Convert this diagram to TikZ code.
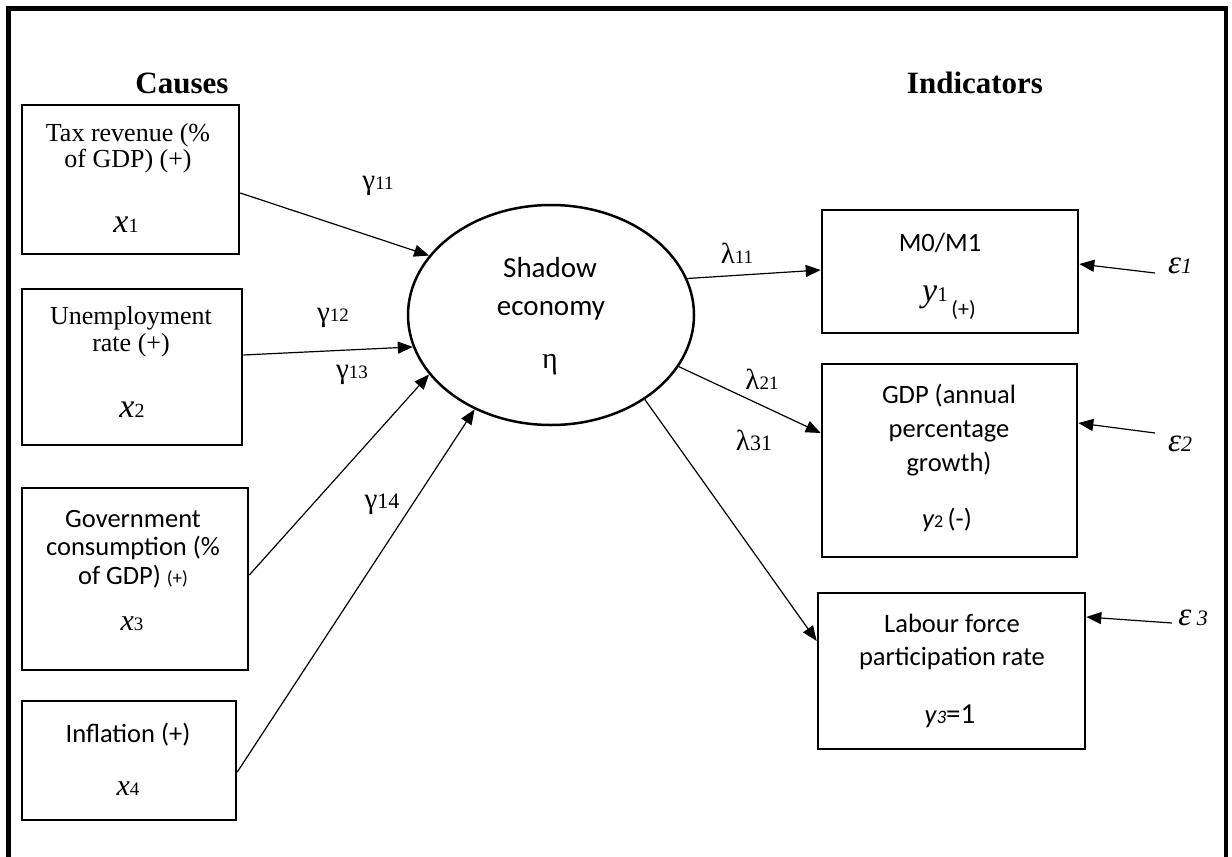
\documentclass[tikz,border=0pt]{standalone}
\usepackage{fontspec}
\setmainfont{Liberation Serif}
\newfontfamily\calib{Carlito}
\usetikzlibrary{arrows.meta,shapes.geometric}
\newcommand\fs[1]{\fontsize{#1}{#1}\selectfont}
\begin{document}
\begin{tikzpicture}[x=1pt,y=-1pt,
  box/.style={draw, line width=2.6pt, inner sep=0pt},
  txt/.style={anchor=base, inner sep=0pt, font=\fs{26}},
  ctxt/.style={anchor=base, inner sep=0pt, font=\calib\fs{26.5}},
  lab/.style={inner sep=0pt, font=\fs{29}},
  arr/.style={line width=1.2pt, -{Triangle[length=15pt,width=12pt]}}]
\useasboundingbox (0,0) rectangle (1232,857);
\clip (0,0) rectangle (1232,857);
\draw[line width=4.5pt] (8.5,880) -- (8.5,8.5) -- (1226,8.5) -- (1226,880);

% headings
\node[anchor=base, inner sep=0pt, font=\bfseries\fs{31}] (hc) at (182,93) {Causes};
\node[anchor=base, inner sep=0pt, font=\bfseries\fs{31}] (hi) at (975,93) {Indicators};

% cause boxes
\node[box, minimum width=217pt, minimum height=149pt] (b1) at (130.5,179.5) {};
\node[txt] (b1a) at (128,141) {Tax revenue (\%};
\node[txt] (b1b) at (128,167) {of GDP) (+)};
\node[txt] (b1c) at (126,232) {{\fs{34}\itshape x}{\fs{20}1}};

\node[box, minimum width=220pt, minimum height=156pt] (b2) at (132,367) {};
\node[txt] (b2a) at (131,324) {Unemployment};
\node[txt] (b2b) at (131,351) {rate (+)};
\node[txt] (b2c) at (132,417) {{\fs{34}\itshape x}{\fs{20}2}};

\node[box, minimum width=226pt, minimum height=182pt] (b3) at (135,579) {};
\node[ctxt] (b3a) at (133,527) {Government};
\node[ctxt] (b3b) at (133,555) {consumption (\%};
\node[ctxt] (b3c) at (133,584) {of GDP) {\fs{19}(+)}};
\node[txt] (b3d) at (132,630) {{\fs{30}\itshape x}{\fs{19}3}};

\node[box, minimum width=214pt, minimum height=119pt] (b4) at (129,760.5) {};
\node[ctxt] (b4a) at (128,742) {Inflation (+)};
\node[txt] (b4b) at (128,795) {{\fs{30}\itshape x}{\fs{19}4}};

% latent variable
\node[draw, ellipse, line width=2.5pt, inner sep=0pt, minimum width=286pt, minimum height=220pt] (eta) at (551,315) {};
\node[anchor=base, inner sep=0pt, font=\calib\fs{29}] (ea) at (550,277) {Shadow};
\node[anchor=base, inner sep=0pt, font=\calib\fs{29}] (eb) at (551,315) {economy};
\node[anchor=base, inner sep=0pt, font=\fs{30}] (ec) at (550,368) {η};

% indicator boxes
\node[box, minimum width=256pt, minimum height=123pt] (m) at (950,271.5) {};
\node[ctxt] (ma) at (940,251) {M0/M1};
\node[anchor=base west, inner sep=0pt] (mb) at (922,301) {{\fs{34}\itshape y}{\fs{21}1}\raisebox{-15pt}{\calib\fs{22}\,(+)}};

\node[box, minimum width=255pt, minimum height=193pt] (g) at (949.5,460.5) {};
\node[ctxt] (ga) at (949,403) {GDP (annual};
\node[ctxt] (gb) at (949,437) {percentage};
\node[ctxt] (gc) at (949,471) {growth)};
\node[ctxt] (gd) at (947,527) {{\itshape y}{\fs{18}2}\,(-)};

\node[box, minimum width=267pt, minimum height=156pt] (l) at (951.5,671) {};
\node[ctxt] (la) at (952,632) {Labour force};
\node[ctxt] (lb) at (952,665) {participation rate};
\node[ctxt] (lc) at (950,723) {{\itshape y}{\fs{19}\itshape 3}{\fs{29}=1}};

% error terms
\node[lab, font=\fs{33}] (e1) at (1180,266) {\itshape ε{\fs{22}1}};
\node[lab, font=\fs{33}] (e2) at (1180,444) {\itshape ε{\fs{22}2}};
\node[lab, font=\fs{33}] (e3) at (1193,618) {\itshape ε\,{\fs{22}3}};

% coefficient labels
\node[lab] (lg1) at (378,186) {γ{\fs{19}11}};
\node[lab] (lg2) at (333,318) {γ{\fs{19}12}};
\node[lab] (lg3) at (352,375) {γ{\fs{19}13}};
\node[lab] (lg4) at (382,504) {γ{\fs{22}14}};
\node[lab] (ll1) at (737,253) {λ{\fs{19}11}};
\node[lab] (ll2) at (762,379) {λ{\fs{19}21}};
\node[lab] (ll3) at (754,440) {λ{\fs{22}31}};

% paths
\draw[arr] ([shift={(0,13.5)}]b1.east) -- (eta.154);
\draw[arr] ([shift={(0,-12)}]b2.east) -- (eta.193);
\draw[arr] ([shift={(0,-4)}]b3.east) -- (eta.206.7);
\draw[arr] ([shift={(0,11.5)}]b4.east) -- (eta.231);
\draw[arr] (eta.15) -- ([shift={(0,-1.5)}]m.west);
\draw[arr] (eta.-22.6) -- ([shift={(0,-27.5)}]g.west);
\draw[arr] (eta.-42.7) -- ([shift={(0,-30)}]l.west);
\draw[arr] ([shift={(-25,7)}]e1.center) -- ([shift={(0,-7.5)}]m.east);
\draw[arr] ([shift={(-25,-11)}]e2.center) -- ([shift={(0,-37.5)}]g.east);
\draw[arr] ([shift={(-21,5)}]e3.center) -- ([shift={(0,-54)}]l.east);
\end{tikzpicture}
\end{document}
